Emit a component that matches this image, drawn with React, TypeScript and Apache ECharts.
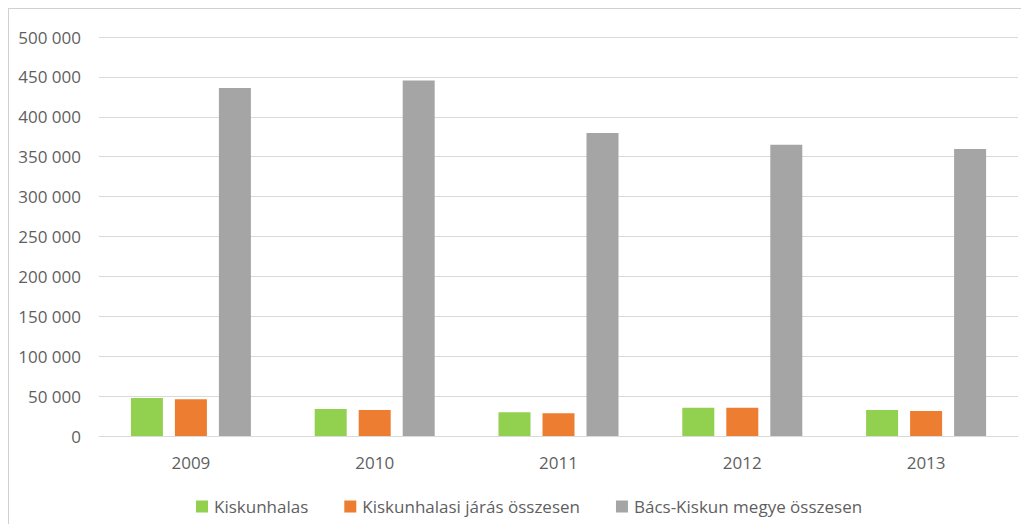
import React, { useEffect, useRef } from "react";
import * as echarts from "echarts";

const categories = ["2009", "2010", "2011", "2012", "2013"];
const seriesNames = ["Kiskunhalas", "Kiskunhalasi járás összesen", "Bács-Kiskun megye összesen"];
const kiskunhalas = [47600, 33900, 29700, 35500, 32600];
const jaras = [46000, 32600, 28400, 35300, 31300];
const megye = [436000, 445600, 379600, 365000, 359800];
const colors = ["#92D050", "#ED7D31", "#A5A5A5"];

const fmt = (v: number) => String(v).replace(/\B(?=(\d{3})+(?!\d))/g, " ");

export default function App() {
  const ref = useRef<HTMLDivElement>(null);
  useEffect(() => {
    if (!ref.current) return;
    const chart = echarts.init(ref.current, undefined, { renderer: "svg" });
    const font = "'Open Sans', sans-serif";
    const data = [kiskunhalas, jaras, megye];
    chart.setOption({
      animation: false,
      textStyle: { fontFamily: font },
      grid: { left: 90, right: 11, top: 28, bottom: 88, containLabel: false },
      legend: {
        bottom: 4,
        left: 182,
        itemWidth: 12,
        itemHeight: 12,
        itemGap: 36,
        icon: "rect",
        textStyle: { color: "#5f5f5f", fontSize: 17, fontFamily: font, padding: [0, 0, 0, 1] },
        data: seriesNames,
      },
      xAxis: {
        type: "category",
        data: categories,
        axisLine: { lineStyle: { color: "#d9d9d9", width: 1 } },
        axisTick: { show: false },
        axisLabel: { color: "#5f5f5f", fontSize: 17, margin: 18, fontFamily: font },
      },
      yAxis: {
        type: "value",
        min: 0,
        max: 500000,
        interval: 50000,
        axisLine: { show: false },
        axisTick: { show: false },
        splitLine: { lineStyle: { color: "#d9d9d9", width: 1 } },
        axisLabel: { color: "#5f5f5f", fontSize: 17, margin: 18, fontFamily: font, formatter: (v: number) => fmt(v) },
      },
      series: seriesNames.map((name, i) => ({
        name,
        type: "bar",
        data: data[i],
        barWidth: 32,
        barGap: "37.5%",
        itemStyle: { color: colors[i] },
      })),
    });
    return () => chart.dispose();
  }, []);
  return (
    <div style={{ borderLeft: "1.5px solid #d0d0d0", borderTop: "1.5px solid #d0d0d0", width: 1020, height: 515, boxSizing: "content-box" }}>
      <div ref={ref} style={{ width: 1020, height: 515 }} />
    </div>
  );
}
